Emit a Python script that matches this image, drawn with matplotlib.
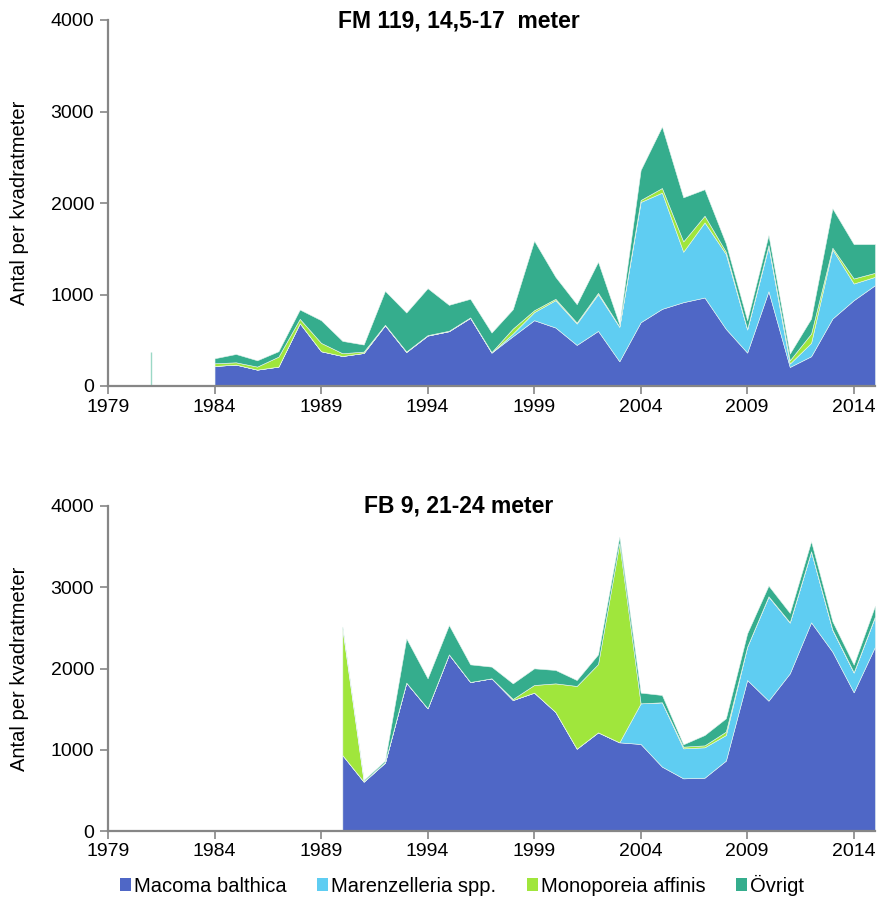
import matplotlib
matplotlib.use('Agg')
import matplotlib.pyplot as plt
import matplotlib.patches as patches

plt.rcParams['font.family'] = ['Liberation Sans', 'DejaVu Sans']

# --- data: FM 119, 14,5-17 meter ---
years_fm = list(range(1984, 2016))
fm_macoma = [219, 234, 179, 212, 686, 380, 328, 361, 664, 372, 551, 599, 745, 365, 544, 719,
             639, 449, 602, 270, 697, 843, 916, 967, 624, 365, 1036, 208, 325, 737, 938, 1102]
fm_marenz = [0, 0, 0, 0, 0, 0, 0, 0, 0, 0, 0, 0, 0, 0, 29, 88,
             299, 233, 402, 376, 1314, 1270, 551, 821, 818, 252, 486, 37, 146, 756, 182, 91]
fm_mono = [29, 25, 33, 109, 48, 91, 30, 15, 5, 5, 5, 5, 5, 5, 55, 21,
           15, 11, 14, 5, 22, 51, 113, 73, 25, 5, 18, 36, 102, 18, 55, 44]
fm_ovrigt = [55, 91, 69, 59, 102, 248, 135, 77, 371, 426, 513, 283, 203, 214, 211, 760,
             240, 201, 340, 24, 328, 672, 482, 289, 91, 97, 110, 73, 164, 431, 376, 314]
fm_spike_year = 1981
fm_spike_value = 370

# --- data: FB 9, 21-24 meter ---
years_fb = list(range(1990, 2016))
fb_macoma = [935, 607, 841, 1826, 1510, 2174, 1834, 1879, 1612, 1703, 1465, 1013, 1214,
             1091, 1071, 792, 648, 656, 866, 1858, 1604, 1940, 2568, 2207, 1707, 2269]
fb_marenz = [0, 0, 0, 0, 0, 0, 0, 0, 0, 0, 0, 0, 0,
             0, 500, 792, 369, 374, 315, 411, 1280, 624, 870, 267, 242, 369]
fb_mono = [1559, 5, 5, 0, 0, 0, 0, 0, 13, 94, 352, 772, 841,
           2450, 0, 0, 21, 24, 42, 0, 5, 5, 5, 5, 5, 5]
fb_ovrigt = [21, 16, 20, 545, 369, 361, 217, 144, 192, 205, 165, 73, 119,
             82, 132, 90, 29, 127, 164, 164, 131, 115, 123, 102, 94, 131]

labels = ['Macoma balthica', 'Marenzelleria spp.', 'Monoporeia affinis', 'Övrigt']
colors = ['#4F67C6', '#5FCDF2', '#A0E63C', '#35AD8D']
axis_gray = '#868686'
tick_years = list(range(1979, 2015, 5))

fig = plt.figure(figsize=(8.77, 8.99), dpi=100)
ax1 = fig.add_axes([108 / 877, 1 - 386 / 899, 767 / 877, 366 / 899])
ax2 = fig.add_axes([108 / 877, 1 - 831 / 899, 767 / 877, 325 / 899])


def style_axis(ax):
    ax.set_xlim(1979, 2015)
    ax.set_ylim(0, 4000)
    ax.set_xticks(tick_years)
    ax.set_yticks([0, 1000, 2000, 3000, 4000])
    for s in ['top', 'right']:
        ax.spines[s].set_visible(False)
    for s in ['left', 'bottom']:
        ax.spines[s].set_color(axis_gray)
        ax.spines[s].set_linewidth(1.6)
    ax.tick_params(axis='both', colors=axis_gray, labelcolor='black', labelsize=14,
                   length=6, width=1.2, direction='out')
    ax.tick_params(axis='y', pad=4)
    ax.tick_params(axis='x', pad=3)
    ax.set_ylabel('Antal per kvadratmeter', fontsize=14.5)
    ax.yaxis.set_label_coords(-79 / 767, 0.5)


ax1.stackplot(years_fm, fm_macoma, fm_marenz, fm_mono, fm_ovrigt,
              colors=colors, linewidth=0.4, edgecolor='#e8f4f0')
ax1.vlines(fm_spike_year, 0, fm_spike_value, color='#9bd8c6', lw=1.0)
style_axis(ax1)

ax2.stackplot(years_fb, fb_macoma, fb_marenz, fb_mono, fb_ovrigt,
              colors=colors, linewidth=0.4, edgecolor='#e8f4f0')
style_axis(ax2)

fig.text(459 / 877, 1 - 21 / 899, 'FM 119, 14,5-17  meter', ha='center', va='center',
         fontsize=16.5, fontweight='bold')
fig.text(459 / 877, 1 - 506 / 899, 'FB 9, 21-24 meter', ha='center', va='center',
         fontsize=16.5, fontweight='bold')

handles = [patches.Patch(facecolor=c, edgecolor='none') for c in colors]
fig.legend(handles, labels, loc='center', bbox_to_anchor=(462 / 877, 1 - 885 / 899),
           ncol=4, frameon=False, fontsize=14.5, handlelength=0.55, handleheight=0.6,
           handletextpad=0.15, columnspacing=1.5)

plt.savefig('out.png', dpi=100, facecolor='white')
